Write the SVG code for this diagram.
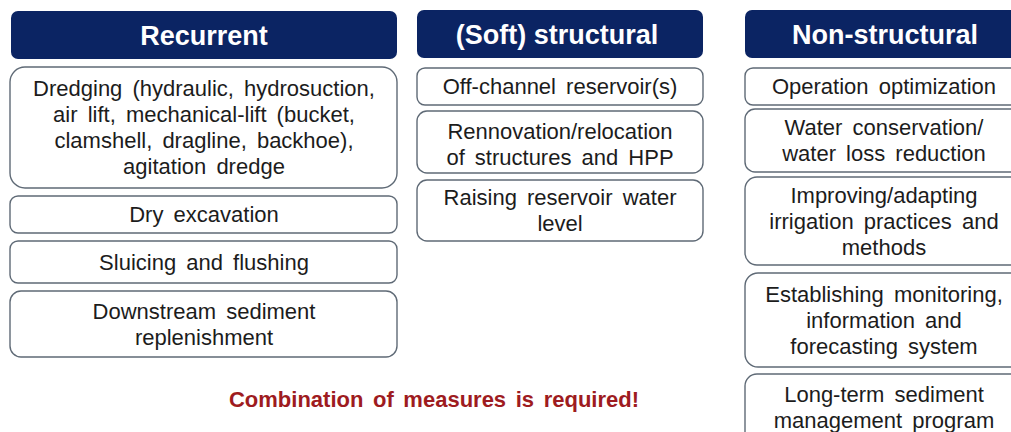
<svg xmlns="http://www.w3.org/2000/svg" width="1011" height="432" viewBox="0 0 1011 432">
<style>
.hdr{fill:#0b2463;}
.hdrt{fill:#ffffff;font-family:"Liberation Sans",Arial,sans-serif;font-weight:bold;font-size:27px;text-anchor:middle;}
.box{fill:#ffffff;stroke:#5f6a76;stroke-width:1.4;}
.t{fill:#1c1c1c;font-family:"Liberation Sans",Arial,sans-serif;font-size:22px;text-anchor:middle;word-spacing:4px;}
.note{fill:#9e1b20;font-family:"Liberation Sans",Arial,sans-serif;font-weight:bold;font-size:22px;text-anchor:middle;word-spacing:3.5px;}
</style>
<rect width="1011" height="432" fill="#ffffff"/>
<g id="col-recurrent">
<g id="h-recurrent"><rect class="hdr" x="11" y="11" width="386" height="48" rx="7"/><text class="hdrt" x="204" y="45">Recurrent</text></g>
<g id="n-dredging"><rect class="box" x="10" y="67" width="387" height="121" rx="15"/>
<text class="t" x="204" y="96.4">Dredging (hydraulic, hydrosuction,</text>
<text class="t" x="204" y="122.4">air lift, mechanical-lift (bucket,</text>
<text class="t" x="204" y="148.4">clamshell, dragline, backhoe),</text>
<text class="t" x="204" y="174.4">agitation dredge</text></g>
<g id="n-dry"><rect class="box" x="10" y="196" width="387" height="37" rx="8"/><text class="t" x="204" y="222.4">Dry excavation</text></g>
<g id="n-sluicing"><rect class="box" x="10" y="241" width="387" height="42" rx="8"/><text class="t" x="204" y="269.9">Sluicing and flushing</text></g>
<g id="n-downstream"><rect class="box" x="10" y="291" width="387" height="66" rx="11"/>
<text class="t" x="204" y="318.9">Downstream sediment</text>
<text class="t" x="204" y="344.9">replenishment</text></g>
</g>
<g id="col-structural">
<g id="h-structural"><rect class="hdr" x="417" y="10" width="286" height="48" rx="7"/><text class="hdrt" x="557" y="44">(Soft) structural</text></g>
<g id="n-offchannel"><rect class="box" x="417" y="68" width="286" height="37" rx="8"/><text class="t" x="560" y="94.4">Off-channel reservoir(s)</text></g>
<g id="n-renovation"><rect class="box" x="417" y="111" width="286" height="62" rx="10"/>
<text class="t" x="560" y="138.5">Rennovation/relocation</text>
<text class="t" x="560" y="164.5">of structures and HPP</text></g>
<g id="n-raising"><rect class="box" x="417" y="180" width="286" height="61" rx="10"/>
<text class="t" x="560" y="205.4">Raising reservoir water</text>
<text class="t" x="560" y="231.4">level</text></g>
</g>
<g id="col-nonstructural">
<g id="h-nonstructural"><rect class="hdr" x="745" y="10" width="280" height="48" rx="7"/><text class="hdrt" x="885" y="44">Non-structural</text></g>
<g id="n-operation"><rect class="box" x="745" y="68" width="280" height="37" rx="8"/><text class="t" x="884" y="94.4">Operation optimization</text></g>
<g id="n-water"><rect class="box" x="745" y="109" width="280" height="63" rx="10"/>
<text class="t" x="884" y="135.4">Water conservation/</text>
<text class="t" x="884" y="161.4">water loss reduction</text></g>
<g id="n-irrigation"><rect class="box" x="745" y="177" width="280" height="88" rx="12"/>
<text class="t" x="884" y="202.9">Improving/adapting</text>
<text class="t" x="884" y="228.9">irrigation practices and</text>
<text class="t" x="884" y="254.9">methods</text></g>
<g id="n-monitoring"><rect class="box" x="745" y="273" width="280" height="94" rx="13"/>
<text class="t" x="884" y="301.9">Establishing monitoring,</text>
<text class="t" x="884" y="327.9">information and</text>
<text class="t" x="884" y="353.9">forecasting system</text></g>
<g id="n-longterm"><rect class="box" x="745" y="374" width="280" height="80" rx="12"/>
<text class="t" x="884" y="402">Long-term sediment</text>
<text class="t" x="884" y="428">management program</text></g>
</g>
<g id="connectors"></g>
<g id="note"><text class="note" x="434" y="407">Combination of measures is required!</text></g>
</svg>
